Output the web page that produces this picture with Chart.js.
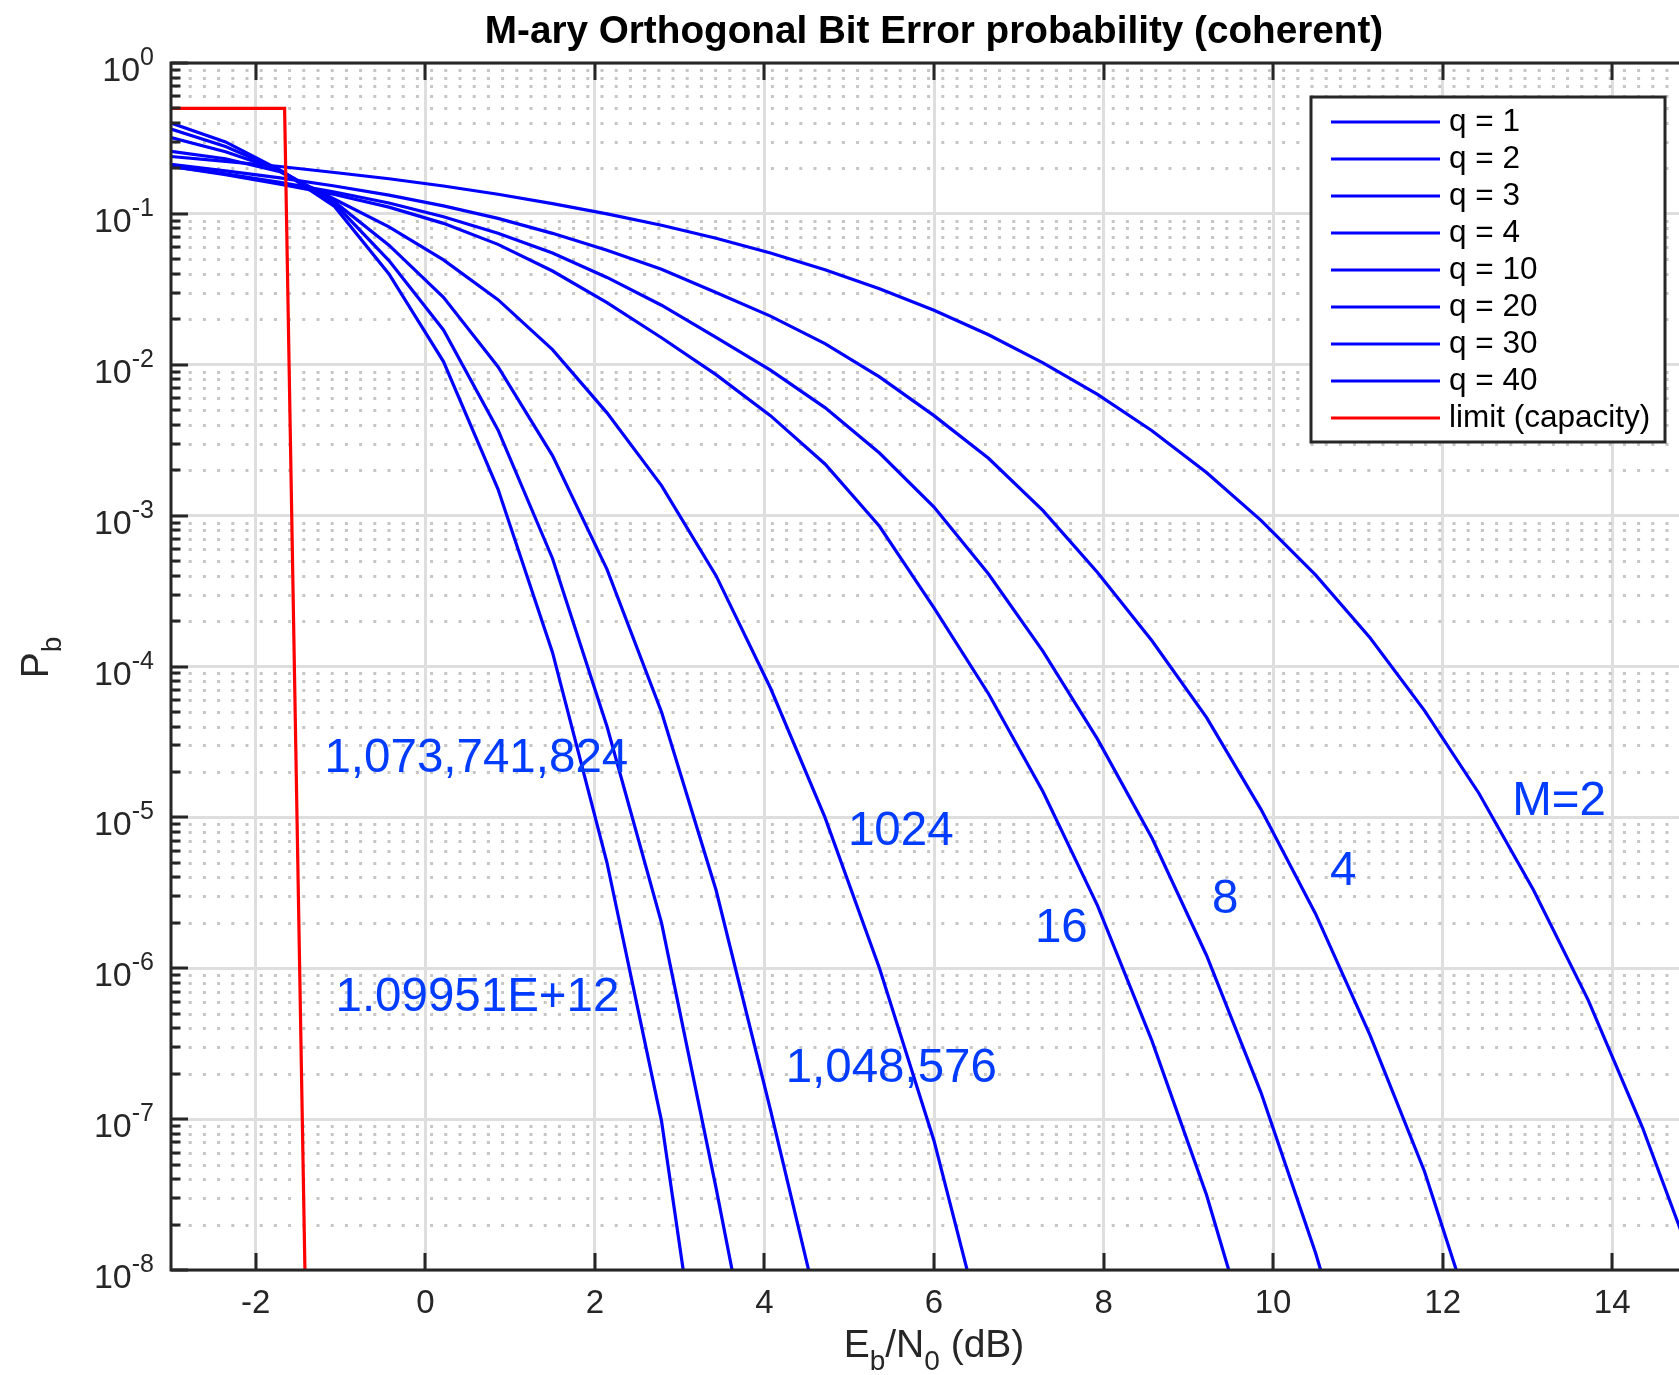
<!DOCTYPE html>
<html>
<head>
<meta charset="utf-8">
<title>M-ary Orthogonal Bit Error probability</title>
<script src="https://cdn.jsdelivr.net/npm/chart.js@4.4.1/dist/chart.umd.min.js"></script>
<style>
  html, body { margin: 0; padding: 0; background: #fff; overflow: hidden; }
  #wrap { width: 1679px; height: 1375px; overflow: hidden; }
</style>
</head>
<body>
<div id="wrap"><canvas id="ber" width="1700" height="1375"></canvas></div>
<script>
// Eb/N0 grid (dB) shared by every curve, 29 points from -3 to 15
const ebno = [-3, -2.357, -1.714, -1.071, -0.429, 0.214, 0.857, 1.5, 2.143, 2.786, 3.429, 4.071,
  4.714, 5.357, 6, 6.643, 7.286, 7.929, 8.571, 9.214, 9.857, 10.5, 11.143, 11.786, 12.429, 13.071,
  13.714, 14.357, 15];

// bit error probability per q (M = 2^q), one value per ebno point
const pbQ1 = [0.24, 0.223, 0.206, 0.188, 0.171, 0.153, 0.135, 0.117, 0.100, 0.0841, 0.0689, 0.0550,
  0.0426, 0.0319, 0.0230, 0.0158, 0.0103, 0.00636, 0.00365, 0.00193, 9.3e-4, 4.05e-4, 1.55e-4, 5.1e-5,
  1.44e-5, 3.3e-6, 6.2e-7, 8.8e-8, 9.4e-9];
const pbQ2 = [0.213, 0.193, 0.173, 0.153, 0.133, 0.113, 0.0933, 0.0743, 0.0574, 0.0429, 0.0301, 0.0210,
  0.0138, 0.0083, 0.0046, 0.0024, 0.00108, 4.2e-4, 1.48e-4, 4.6e-5, 1.13e-5, 2.3e-6, 3.6e-7, 4.5e-8, 3.4e-9];
const pbQ3 = [0.206, 0.1845, 0.162, 0.1396, 0.118, 0.0957, 0.0743, 0.055, 0.0379, 0.0248, 0.0152, 0.0092,
  0.0052, 0.0026, 0.00114, 4.1e-4, 1.26e-4, 3.3e-5, 7.3e-6, 1.22e-6, 1.5e-7, 1.3e-8, 8.2e-10];
const pbQ4 = [0.2065, 0.1816, 0.1576, 0.1343, 0.1109, 0.0865, 0.0628, 0.0418, 0.0258, 0.0151, 0.0086,
  0.0046, 0.0022, 8.5e-4, 2.45e-4, 6.6e-5, 1.48e-5, 2.6e-6, 3.3e-7, 3.15e-8, 1.9e-9];
const pbQ10 = [0.26, 0.232, 0.19, 0.125, 0.082, 0.0495, 0.027, 0.0126, 0.0048, 1.58e-3, 4.0e-4,
  7.2e-5, 1.0e-5, 1.0e-6, 7.2e-8, 2.8e-9];
const pbQ20 = [0.32, 0.258, 0.195, 0.12, 0.062, 0.028, 0.0097, 2.5e-3, 4.4e-4, 5.0e-5, 3.3e-6,
  1.15e-7, 3.5e-9];
const pbQ30 = [0.365, 0.28, 0.195, 0.117, 0.049, 0.017, 0.0037, 5.2e-4, 4.0e-5, 2.0e-6, 3.5e-8, 5.0e-10];
const pbQ40 = [0.40, 0.30, 0.195, 0.112, 0.040, 0.0105, 1.5e-3, 1.24e-4, 5.0e-6, 9.7e-8, 3.2e-10];

const qValues = [1, 2, 3, 4, 10, 20, 30, 40];

// capacity limit: Pb = 1/2 up to the Shannon limit, then straight down
const limitEbno = [-3, -1.66, -1.42];
const limitPb = [0.5, 0.5, 1e-8];

const xTicks = [-2, 0, 2, 4, 6, 8, 10, 12, 14];
const yExponents = [0, -1, -2, -3, -4, -5, -6, -7, -8];

// M labels written next to the curves
const curveNotes = [
  { text: '1,073,741,824', x: -1.19, y: 2.44e-5 },
  { text: '1.09951E+12', x: -1.06, y: 6.35e-7 },
  { text: '1,048,576', x: 4.25, y: 2.16e-7 },
  { text: '1024', x: 4.985, y: 8.0e-6 },
  { text: '16', x: 7.19, y: 1.83e-6 },
  { text: '8', x: 9.28, y: 2.84e-6 },
  { text: '4', x: 10.67, y: 4.35e-6 },
  { text: 'M=2', x: 12.82, y: 1.27e-5 }
];

const SANS = '"Liberation Sans", Arial, Helvetica, sans-serif';
const AXIS = '#262626';
const BLUE = '#0000ff';
const RED = '#ff0000';
const NOTE = 'rgb(0, 60, 255)';

const seriesPb = [pbQ1, pbQ2, pbQ3, pbQ4, pbQ10, pbQ20, pbQ30, pbQ40];
const datasets = seriesPb.map((pb, i) => ({
  label: 'q = ' + qValues[i],
  data: pb.map((v, k) => ({ x: ebno[k], y: v })),
  borderColor: BLUE,
  borderWidth: 3.2,
  pointRadius: 0,
  fill: false,
  tension: 0
}));
datasets.push({
  label: 'limit (capacity)',
  data: limitPb.map((v, k) => ({ x: limitEbno[k], y: v })),
  borderColor: RED,
  borderWidth: 3.2,
  pointRadius: 0,
  fill: false,
  tension: 0,
  order: -1
});

// text pieces with sub/superscripts: [{t, size, dy}]
function richWidth(ctx, parts) {
  let w = 0;
  for (const p of parts) {
    ctx.font = `${p.size}px ${SANS}`;
    w += ctx.measureText(p.t).width;
  }
  return w;
}
function drawRich(ctx, parts, x, y) {
  ctx.textAlign = 'left';
  ctx.textBaseline = 'alphabetic';
  for (const p of parts) {
    ctx.font = `${p.size}px ${SANS}`;
    ctx.fillText(p.t, x, y + (p.dy || 0));
    x += ctx.measureText(p.t).width;
  }
}

const matlabAxes = {
  id: 'matlabAxes',
  beforeDatasetsDraw(chart) {
    const { ctx, chartArea: a, scales: { y } } = chart;
    // dotted minor grid on the log axis
    ctx.save();
    ctx.strokeStyle = '#c6c6c6';
    ctx.lineWidth = 3;
    ctx.setLineDash([3, 11.2]);
    ctx.lineDashOffset = -3.5;
    for (let e = -8; e < 0; e++) {
      for (let m = 2; m <= 9; m++) {
        const py = Math.round(y.getPixelForValue(m * Math.pow(10, e))) + 0.5;
        ctx.beginPath();
        ctx.moveTo(a.left, py);
        ctx.lineTo(a.right, py);
        ctx.stroke();
      }
    }
    ctx.restore();
  },
  afterDatasetsDraw(chart) {
    const { ctx, chartArea: a, scales: { x, y } } = chart;
    ctx.save();

    // axes box and inward ticks
    ctx.strokeStyle = AXIS;
    ctx.lineWidth = 3;
    ctx.setLineDash([]);
    ctx.strokeRect(a.left, a.top, a.right - a.left, a.bottom - a.top);
    ctx.beginPath();
    for (const v of xTicks) {
      const px = Math.round(x.getPixelForValue(v));
      ctx.moveTo(px, a.bottom); ctx.lineTo(px, a.bottom - 17);
      ctx.moveTo(px, a.top); ctx.lineTo(px, a.top + 17);
    }
    for (let e = -8; e <= 0; e++) {
      const py = Math.round(y.getPixelForValue(Math.pow(10, e)));
      ctx.moveTo(a.left, py); ctx.lineTo(a.left + 17, py);
      ctx.moveTo(a.right, py); ctx.lineTo(a.right - 17, py);
      if (e === 0) continue;
      for (let m = 2; m <= 9; m++) {
        const pm = Math.round(y.getPixelForValue(m * Math.pow(10, e)));
        ctx.moveTo(a.left, pm); ctx.lineTo(a.left + 9.5, pm);
        ctx.moveTo(a.right, pm); ctx.lineTo(a.right - 9.5, pm);
      }
    }
    ctx.stroke();

    // tick labels
    ctx.fillStyle = AXIS;
    ctx.font = `33px ${SANS}`;
    ctx.textAlign = 'center';
    ctx.textBaseline = 'alphabetic';
    for (const v of xTicks) {
      ctx.fillText(String(v), x.getPixelForValue(v), a.bottom + 43);
    }
    for (const e of yExponents) {
      const py = y.getPixelForValue(Math.pow(10, e));
      const parts = [{ t: '10', size: 34 }, { t: String(e), size: 25, dy: -16 }];
      drawRich(ctx, parts, a.left - 17 - richWidth(ctx, parts), py + 18);
    }

    // axis labels
    ctx.fillStyle = AXIS;
    const xl = [
      { t: 'E', size: 39 }, { t: 'b', size: 28, dy: 13 }, { t: '/N', size: 39 },
      { t: '0', size: 28, dy: 13 }, { t: ' (dB)', size: 39 }
    ];
    drawRich(ctx, xl, (a.left + a.right) / 2 - richWidth(ctx, xl) / 2, a.bottom + 87);
    const yl = [{ t: 'P', size: 39 }, { t: 'b', size: 28, dy: 13 }];
    ctx.save();
    ctx.translate(48, (a.top + a.bottom) / 2 - 9);
    ctx.rotate(-Math.PI / 2);
    drawRich(ctx, yl, -richWidth(ctx, yl) / 2, 0);
    ctx.restore();

    // title
    ctx.fillStyle = '#000';
    ctx.font = `bold 38.7px ${SANS}`;
    ctx.textAlign = 'center';
    ctx.fillText('M-ary Orthogonal Bit Error probability (coherent)', (a.left + a.right) / 2, 43);

    // curve labels
    ctx.fillStyle = NOTE;
    ctx.font = `47.5px ${SANS}`;
    ctx.textAlign = 'left';
    ctx.textBaseline = 'middle';
    for (const n of curveNotes) {
      ctx.fillText(n.text, x.getPixelForValue(n.x), y.getPixelForValue(n.y));
    }

    // legend box
    const sets = chart.data.datasets;
    const lx = a.right - 386, ly = a.top + 34, lw = 354, lh = 345;
    ctx.fillStyle = '#fff';
    ctx.fillRect(lx, ly, lw, lh);
    ctx.strokeStyle = AXIS;
    ctx.lineWidth = 3;
    ctx.strokeRect(lx, ly, lw, lh);
    ctx.font = `31.5px ${SANS}`;
    ctx.textBaseline = 'middle';
    sets.forEach((ds, i) => {
      const ry = ly + 25 + i * 37;
      ctx.strokeStyle = ds.borderColor;
      ctx.lineWidth = 3;
      ctx.beginPath();
      ctx.moveTo(lx + 20, ry);
      ctx.lineTo(lx + 129, ry);
      ctx.stroke();
      ctx.fillStyle = '#000';
      ctx.fillText(ds.label, lx + 138, ry);
    });

    ctx.restore();
  }
};

new Chart(document.getElementById('ber'), {
  type: 'line',
  data: { datasets: datasets },
  options: {
    responsive: false,
    animation: false,
    events: [],
    layout: { padding: { left: 171, top: 63, right: 3, bottom: 105 } },
    scales: {
      x: {
        type: 'linear',
        min: -3,
        max: 15,
        border: { display: false },
        grid: { color: '#dedede', lineWidth: 3, drawTicks: false },
        ticks: { display: false },
        afterBuildTicks: (s) => { s.ticks = xTicks.map((v) => ({ value: v })); },
        afterFit: (s) => { s.height = 0; }
      },
      y: {
        type: 'logarithmic',
        min: 1e-8,
        max: 1,
        border: { display: false },
        grid: { color: '#dedede', lineWidth: 3, drawTicks: false },
        ticks: { display: false },
        afterBuildTicks: (s) => { s.ticks = yExponents.map((e) => ({ value: Math.pow(10, e) })); },
        afterFit: (s) => { s.width = 0; }
      }
    },
    plugins: {
      legend: { display: false },
      title: { display: false },
      tooltip: { enabled: false }
    }
  },
  plugins: [matlabAxes]
});
</script>
</body>
</html>
